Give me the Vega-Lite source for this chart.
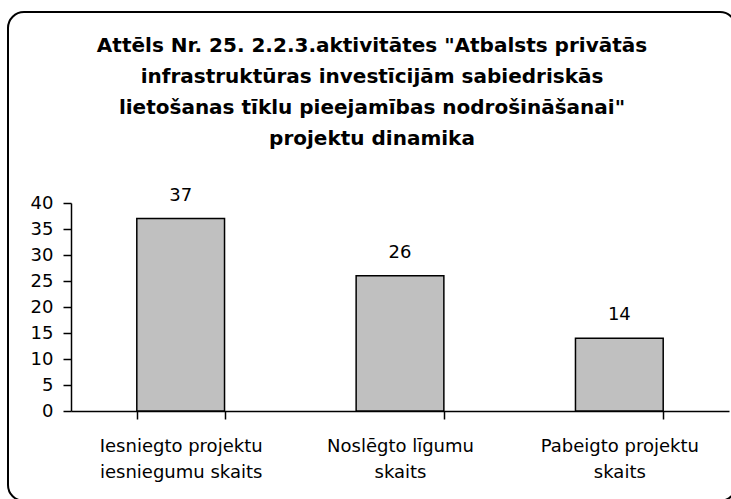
{
  "$schema": "https://vega.github.io/schema/vega-lite/v6.json",
  "width": 728,
  "height": 489,
  "autosize": {"type": "none"},
  "padding": {"left": 8, "top": 12, "right": 0, "bottom": 0},
  "background": "white",
  "title": {
    "text": ["Attēls Nr. 25. 2.2.3.aktivitātes \"Atbalsts privātās", "infrastruktūras investīcijām sabiedriskās", "lietošanas tīklu pieejamības nodrošināšanai\"", "projektu dinamika"],
    "font": "DejaVu Sans",
    "fontSize": 20,
    "fontWeight": "bold",
    "lineHeight": 31,
    "color": "black",
    "anchor": "middle",
    "frame": "group",
    "offset": -137
  },
  "data": {
    "values": [
      {"kategorija": "Iesniegto projektu iesniegumu skaits", "skaits": 37},
      {"kategorija": "Noslēgto līgumu skaits", "skaits": 26},
      {"kategorija": "Pabeigto projektu skaits", "skaits": 14}
    ]
  },
  "encoding": {
    "x": {
      "field": "kategorija",
      "type": "nominal",
      "sort": null,
      "scale": {"range": [63, 721], "paddingInner": 0.6, "paddingOuter": 0.3},
      "axis": {
        "title": null,
        "labelAngle": 0,
        "offset": -90,
        "tickBand": "extent",
        "tickSize": 8,
        "tickColor": "black",
        "tickWidth": 1.5,
        "domainColor": "black",
        "domainWidth": 1.5,
        "labelPadding": 18,
        "labelFont": "DejaVu Sans",
        "labelFontSize": 18,
        "labelColor": "black",
        "labelLineHeight": 26,
        "labelBaseline": "top",
        "labelExpr": "datum.label == 'Iesniegto projektu iesniegumu skaits' ? ['Iesniegto projektu', 'iesniegumu skaits'] : datum.label == 'Noslēgto līgumu skaits' ? ['Noslēgto līgumu', 'skaits'] : datum.label == 'Pabeigto projektu skaits' ? ['Pabeigto projektu', 'skaits'] : ''"
      }
    },
    "y": {
      "field": "skaits",
      "type": "quantitative",
      "scale": {"domain": [0, 40], "range": [399, 191], "nice": false},
      "axis": {
        "title": null,
        "values": [0, 5, 10, 15, 20, 25, 30, 35, 40],
        "grid": false,
        "offset": -63,
        "tickSize": 8,
        "tickColor": "black",
        "tickWidth": 1.5,
        "domainColor": "black",
        "domainWidth": 1.5,
        "labelPadding": 10,
        "labelFont": "DejaVu Sans",
        "labelFontSize": 18,
        "labelColor": "black"
      }
    }
  },
  "layer": [
    {"mark": {"type": "bar", "fill": "#C0C0C0", "stroke": "black", "strokeWidth": 1.5}},
    {
      "mark": {"type": "text", "baseline": "bottom", "dy": -14, "font": "DejaVu Sans", "fontSize": 18, "color": "black"},
      "encoding": {"text": {"field": "skaits", "type": "quantitative"}}
    }
  ],
  "config": {
    "view": {"stroke": "black", "strokeWidth": 2, "cornerRadius": 16}
  }
}
